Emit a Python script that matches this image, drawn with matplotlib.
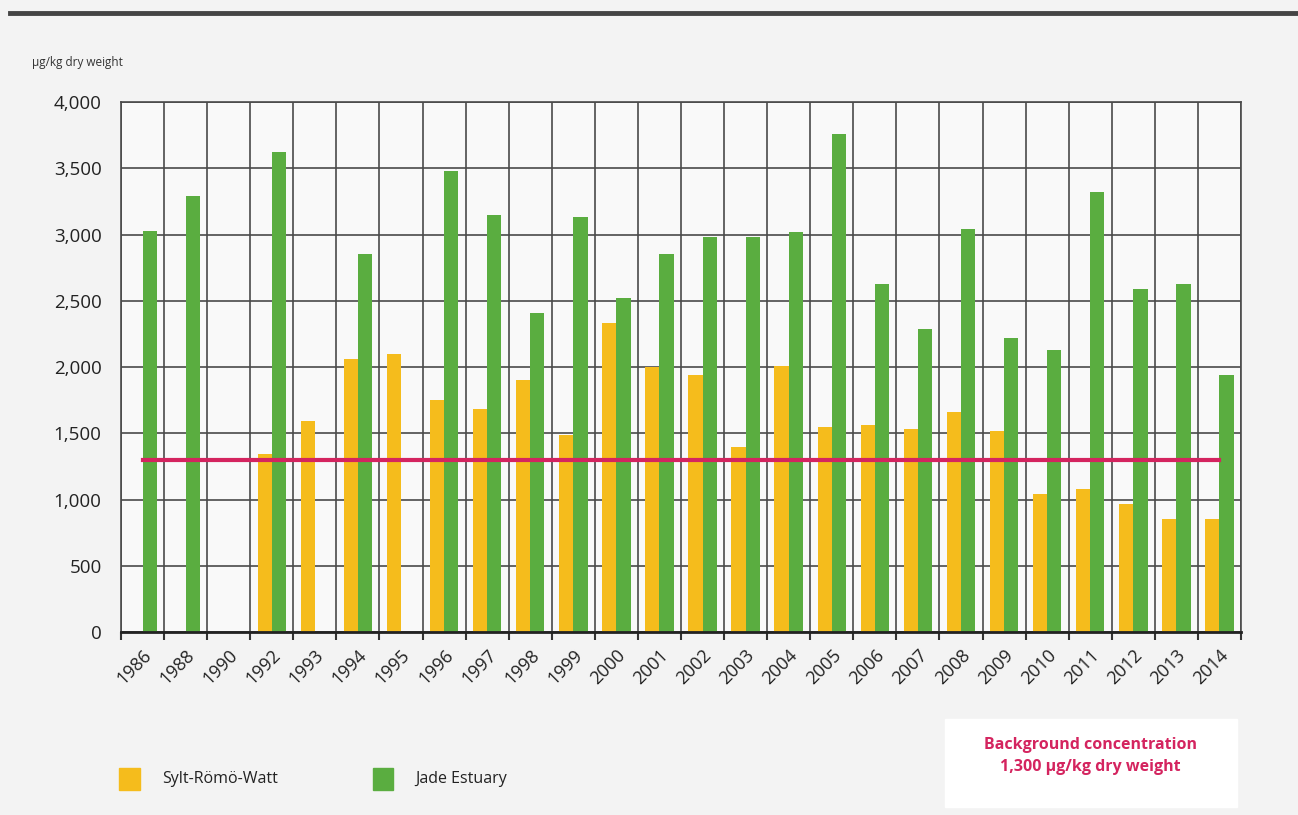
import matplotlib.pyplot as plt
import matplotlib.patches as mpatches
import numpy as np

years = ['1986', '1988', '1990', '1992', '1993', '1994', '1995', '1996', '1997',
         '1998', '1999', '2000', '2001', '2002', '2003', '2004', '2005', '2006',
         '2007', '2008', '2009', '2010', '2011', '2012', '2013', '2014']

# NaN = no measurement
sylt = [np.nan, np.nan, np.nan, 1340, 1590, 2060, 2100, 1750, 1680, 1900, 1490,
        2330, 2000, 1940, 1400, 2010, 1550, 1560, 1530, 1660, 1520, 1040, 1080,
        970, 850, 850]
jade = [3030, 3290, np.nan, 3620, np.nan, 2850, np.nan, 3480, 3150, 2410, 3130,
        2520, 2850, 2980, 2980, 3020, 3760, 2630, 2290, 3040, 2220, 2130, 3320,
        2590, 2630, 1940]
background = 1300

yellow = '#f5bc1c'
green = '#5aad40'
pink = '#d4245f'

plt.rcParams['font.family'] = ['Open Sans', 'DejaVu Sans']

fig = plt.figure(figsize=(12.98, 8.15), dpi=100)
fig.patch.set_facecolor('#f3f3f3')

# dark rule at the top
fig.add_artist(plt.Line2D([0.008, 1.0], [0.984, 0.984], color='#444444', lw=3.5))

ax = fig.add_axes([0.0932, 0.2245, 0.8629, 0.6503])
ax.set_facecolor('#f9f9f9')

x = np.arange(len(years))
w = 0.33
ax.bar(x - w / 2, sylt, width=w, color=yellow, zorder=3)
ax.bar(x + w / 2, jade, width=w, color=green, zorder=3)

ax.plot([x[0], x[-1]], [background, background], color=pink, lw=3, zorder=4)

ax.set_xlim(-0.5, len(years) - 0.5)
ax.set_ylim(0, 4000)
ax.set_yticks(np.arange(0, 4001, 500))
ax.set_yticklabels([f'{v:,}' for v in range(0, 4001, 500)], fontsize=13.5, color='#222222')

ax.set_xticks(x)
ax.set_xticklabels(years, rotation=45, ha='right', va='top', rotation_mode='anchor',
                   fontsize=13, color='#222222')
ax.tick_params(axis='x', which='major', length=0, pad=10)
ax.set_xticks(np.arange(-0.5, len(years), 1), minor=True)
ax.tick_params(axis='x', which='minor', length=6, width=1.5, color='#333333')
ax.tick_params(axis='y', length=0, pad=14)

ax.grid(True, which='minor', axis='x', color='#4a4a4a', lw=1.2, zorder=1)
ax.grid(True, which='major', axis='y', color='#4a4a4a', lw=1.2, zorder=1)
for s in ['left', 'right', 'top']:
    ax.spines[s].set_color('#4a4a4a')
    ax.spines[s].set_linewidth(1.2)
ax.spines['bottom'].set_color('#222222')
ax.spines['bottom'].set_linewidth(2)
ax.spines['bottom'].set_zorder(5)

fig.text(0.025, 0.923, 'µg/kg dry weight', fontsize=8.5, color='#333333', va='center')

# legend
for xs, col, lab in [(0.092, yellow, 'Sylt-Römö-Watt'), (0.287, green, 'Jade Estuary')]:
    fig.add_artist(mpatches.Rectangle((xs, 0.031), 0.016, 0.027, color=col,
                                      transform=fig.transFigure))
    fig.text(xs + 0.033, 0.044, lab, fontsize=11.5, color='#222222', va='center')

# background concentration note
fig.add_artist(mpatches.Rectangle((0.728, 0.01), 0.225, 0.108, color='white',
                                  transform=fig.transFigure))
fig.text(0.84, 0.073, 'Background concentration\n1,300 µg/kg dry weight',
         fontsize=11.5, color=pink, fontweight='bold', ha='center', va='center',
         linespacing=1.5)

fig.savefig('out.png', dpi=100, facecolor=fig.get_facecolor())
